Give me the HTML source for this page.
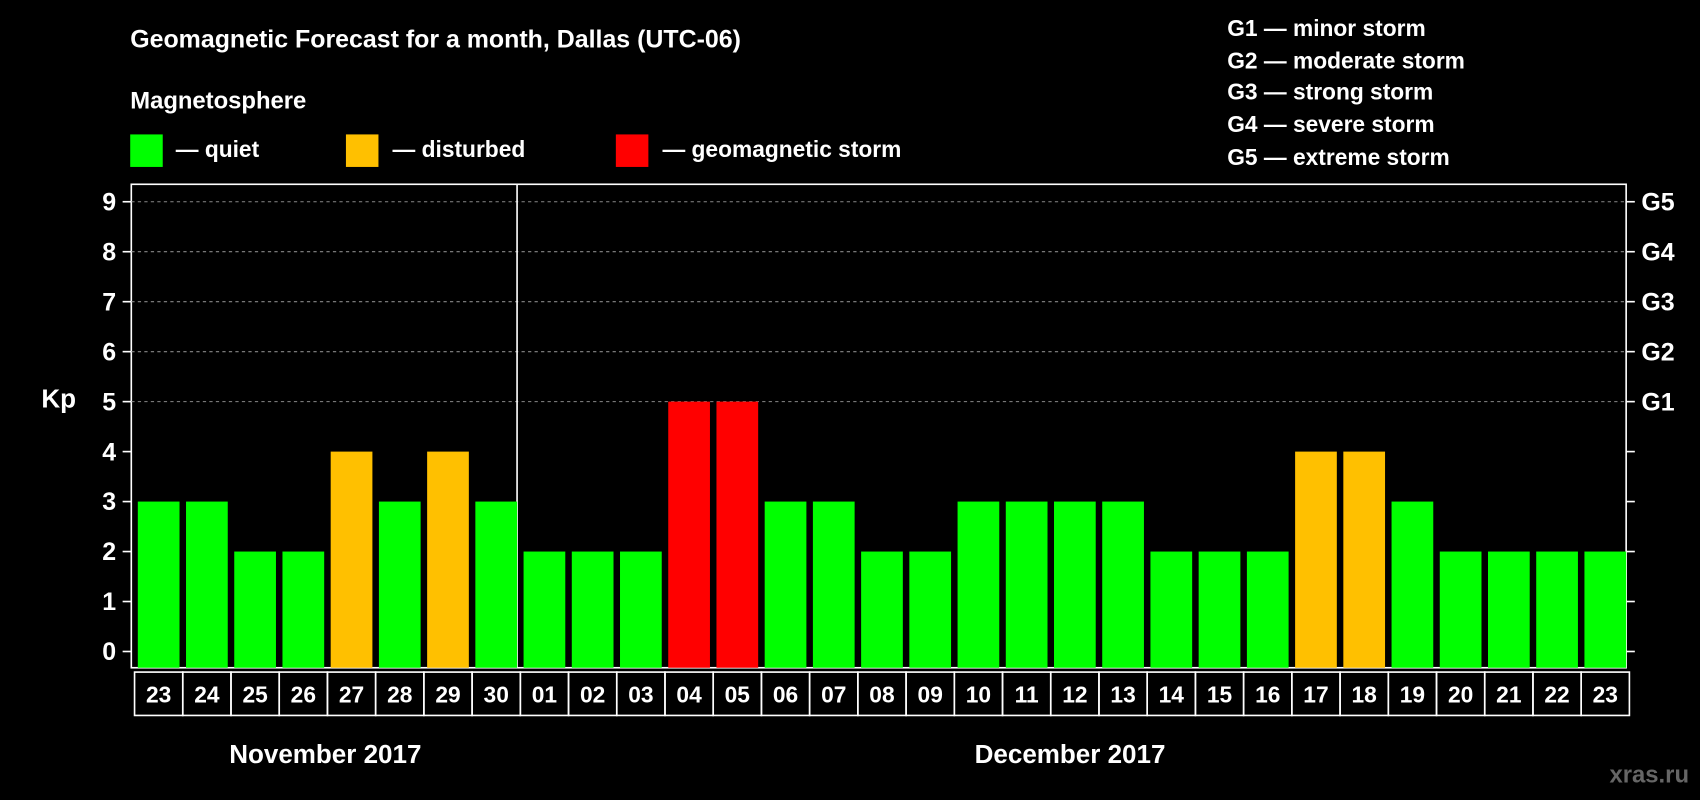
<!DOCTYPE html>
<html><head><meta charset="utf-8"><style>
html,body{margin:0;padding:0;background:#000;}
svg{display:block;}
text{font-family:"Liberation Sans",Arial,sans-serif;font-weight:bold;fill:#fff;}
</style></head><body>
<svg id="chart" width="1700" height="800" viewBox="0 0 1568 738" xmlns="http://www.w3.org/2000/svg">
<rect width="1568" height="738" fill="#000"/>
<text x="120" y="44" font-size="23">Geomagnetic Forecast for a month, Dallas (UTC-06)</text>
<text x="120" y="100" font-size="22">Magnetosphere</text>
<g><rect x="120" y="124" width="30" height="30" fill="#00ff00"/><text x="162" y="145" font-size="21">— quiet</text></g>
<g><rect x="319" y="124" width="30" height="30" fill="#ffc000"/><text x="362" y="145" font-size="21">— disturbed</text></g>
<g><rect x="568" y="124" width="30" height="30" fill="#ff0000"/><text x="611" y="145" font-size="21">— geomagnetic storm</text></g>
<g font-size="21">
<text x="1132" y="33">G1 — minor storm</text>
<text x="1132" y="63">G2 — moderate storm</text>
<text x="1132" y="92">G3 — strong storm</text>
<text x="1132" y="122">G4 — severe storm</text>
<text x="1132" y="152">G5 — extreme storm</text>
</g>
<text x="38" y="376" font-size="24">Kp</text>
<g id="plot"></g>
<text x="300" y="704" font-size="24" text-anchor="middle">November 2017</text>
<text x="987" y="704" font-size="24" text-anchor="middle">December 2017</text>
<text x="1558" y="722" font-size="22" text-anchor="end" fill="#666" style="fill:#666">xras.ru</text>
</svg>
<script>
const days=["23","24","25","26","27","28","29","30","01","02","03","04","05","06","07","08","09","10","11","12","13","14","15","16","17","18","19","20","21","22","23"];
const kp=[3,3,2,2,4,3,4,3,2,2,2,5,5,3,3,2,2,3,3,3,3,2,2,2,4,4,3,2,2,2,2];
const yTicks=[0,1,2,3,4,5,6,7,8,9];
const gLabels=["","","","","","G1","G2","G3","G4","G5"];
const NS="http://www.w3.org/2000/svg";
const g=document.getElementById("plot");
const L=121,R=1500,T=170,B=616,Y0=601,UNIT=46.1;
const pitch=(R-L)/days.length;
const y=v=>Y0-v*UNIT;
const x=i=>L+i*pitch;
function mk(t,a){const e=document.createElementNS(NS,t);for(const k in a)e.setAttribute(k,a[k]);g.appendChild(e);return e;}
const frame=mk("rect",{x:L,y:T,width:R-L,height:B-T,fill:"none",stroke:"#fff","stroke-width":1.5});


yTicks.forEach((v,i)=>{
  if(v>=5){const gl=mk("line",{x1:L,x2:R,y1:y(v),y2:y(v),stroke:"#888","stroke-dasharray":"3,3","stroke-width":1});
  
  }
  mk("line",{x1:L-8,x2:L,y1:y(v),y2:y(v),stroke:"#fff","stroke-width":1.5});
  mk("line",{x1:R,x2:R+8,y1:y(v),y2:y(v),stroke:"#fff","stroke-width":1.5});
  const t=mk("text",{x:L-14,y:y(v)+8,"font-size":23,"text-anchor":"end"});t.textContent=v;
  
  
  if(gLabels[i]){const gt=mk("text",{x:R+14,y:y(v)+8,"font-size":23});gt.textContent=gLabels[i];
  
  }
});
const sep=mk("line",{x1:x(8),x2:x(8),y1:T,y2:B,stroke:"#fff","stroke-width":1.5});


days.forEach((d,i)=>{
  const v=kp[i];
  const c=v>=5?"#ff0000":v>=4?"#ffc000":"#00ff00";
  const b=mk("rect",{x:x(i)+6,y:y(v),width:pitch-6,height:B-y(v),fill:c});
  
  
  const cell=mk("rect",{x:x(i)+3,y:620,width:pitch,height:40,fill:"none",stroke:"#fff","stroke-width":1.5});
  
  
  const t=mk("text",{x:x(i)+3+pitch/2,y:648,"font-size":21,"text-anchor":"middle"});t.textContent=d;
  
  
});
</script>
</body></html>
